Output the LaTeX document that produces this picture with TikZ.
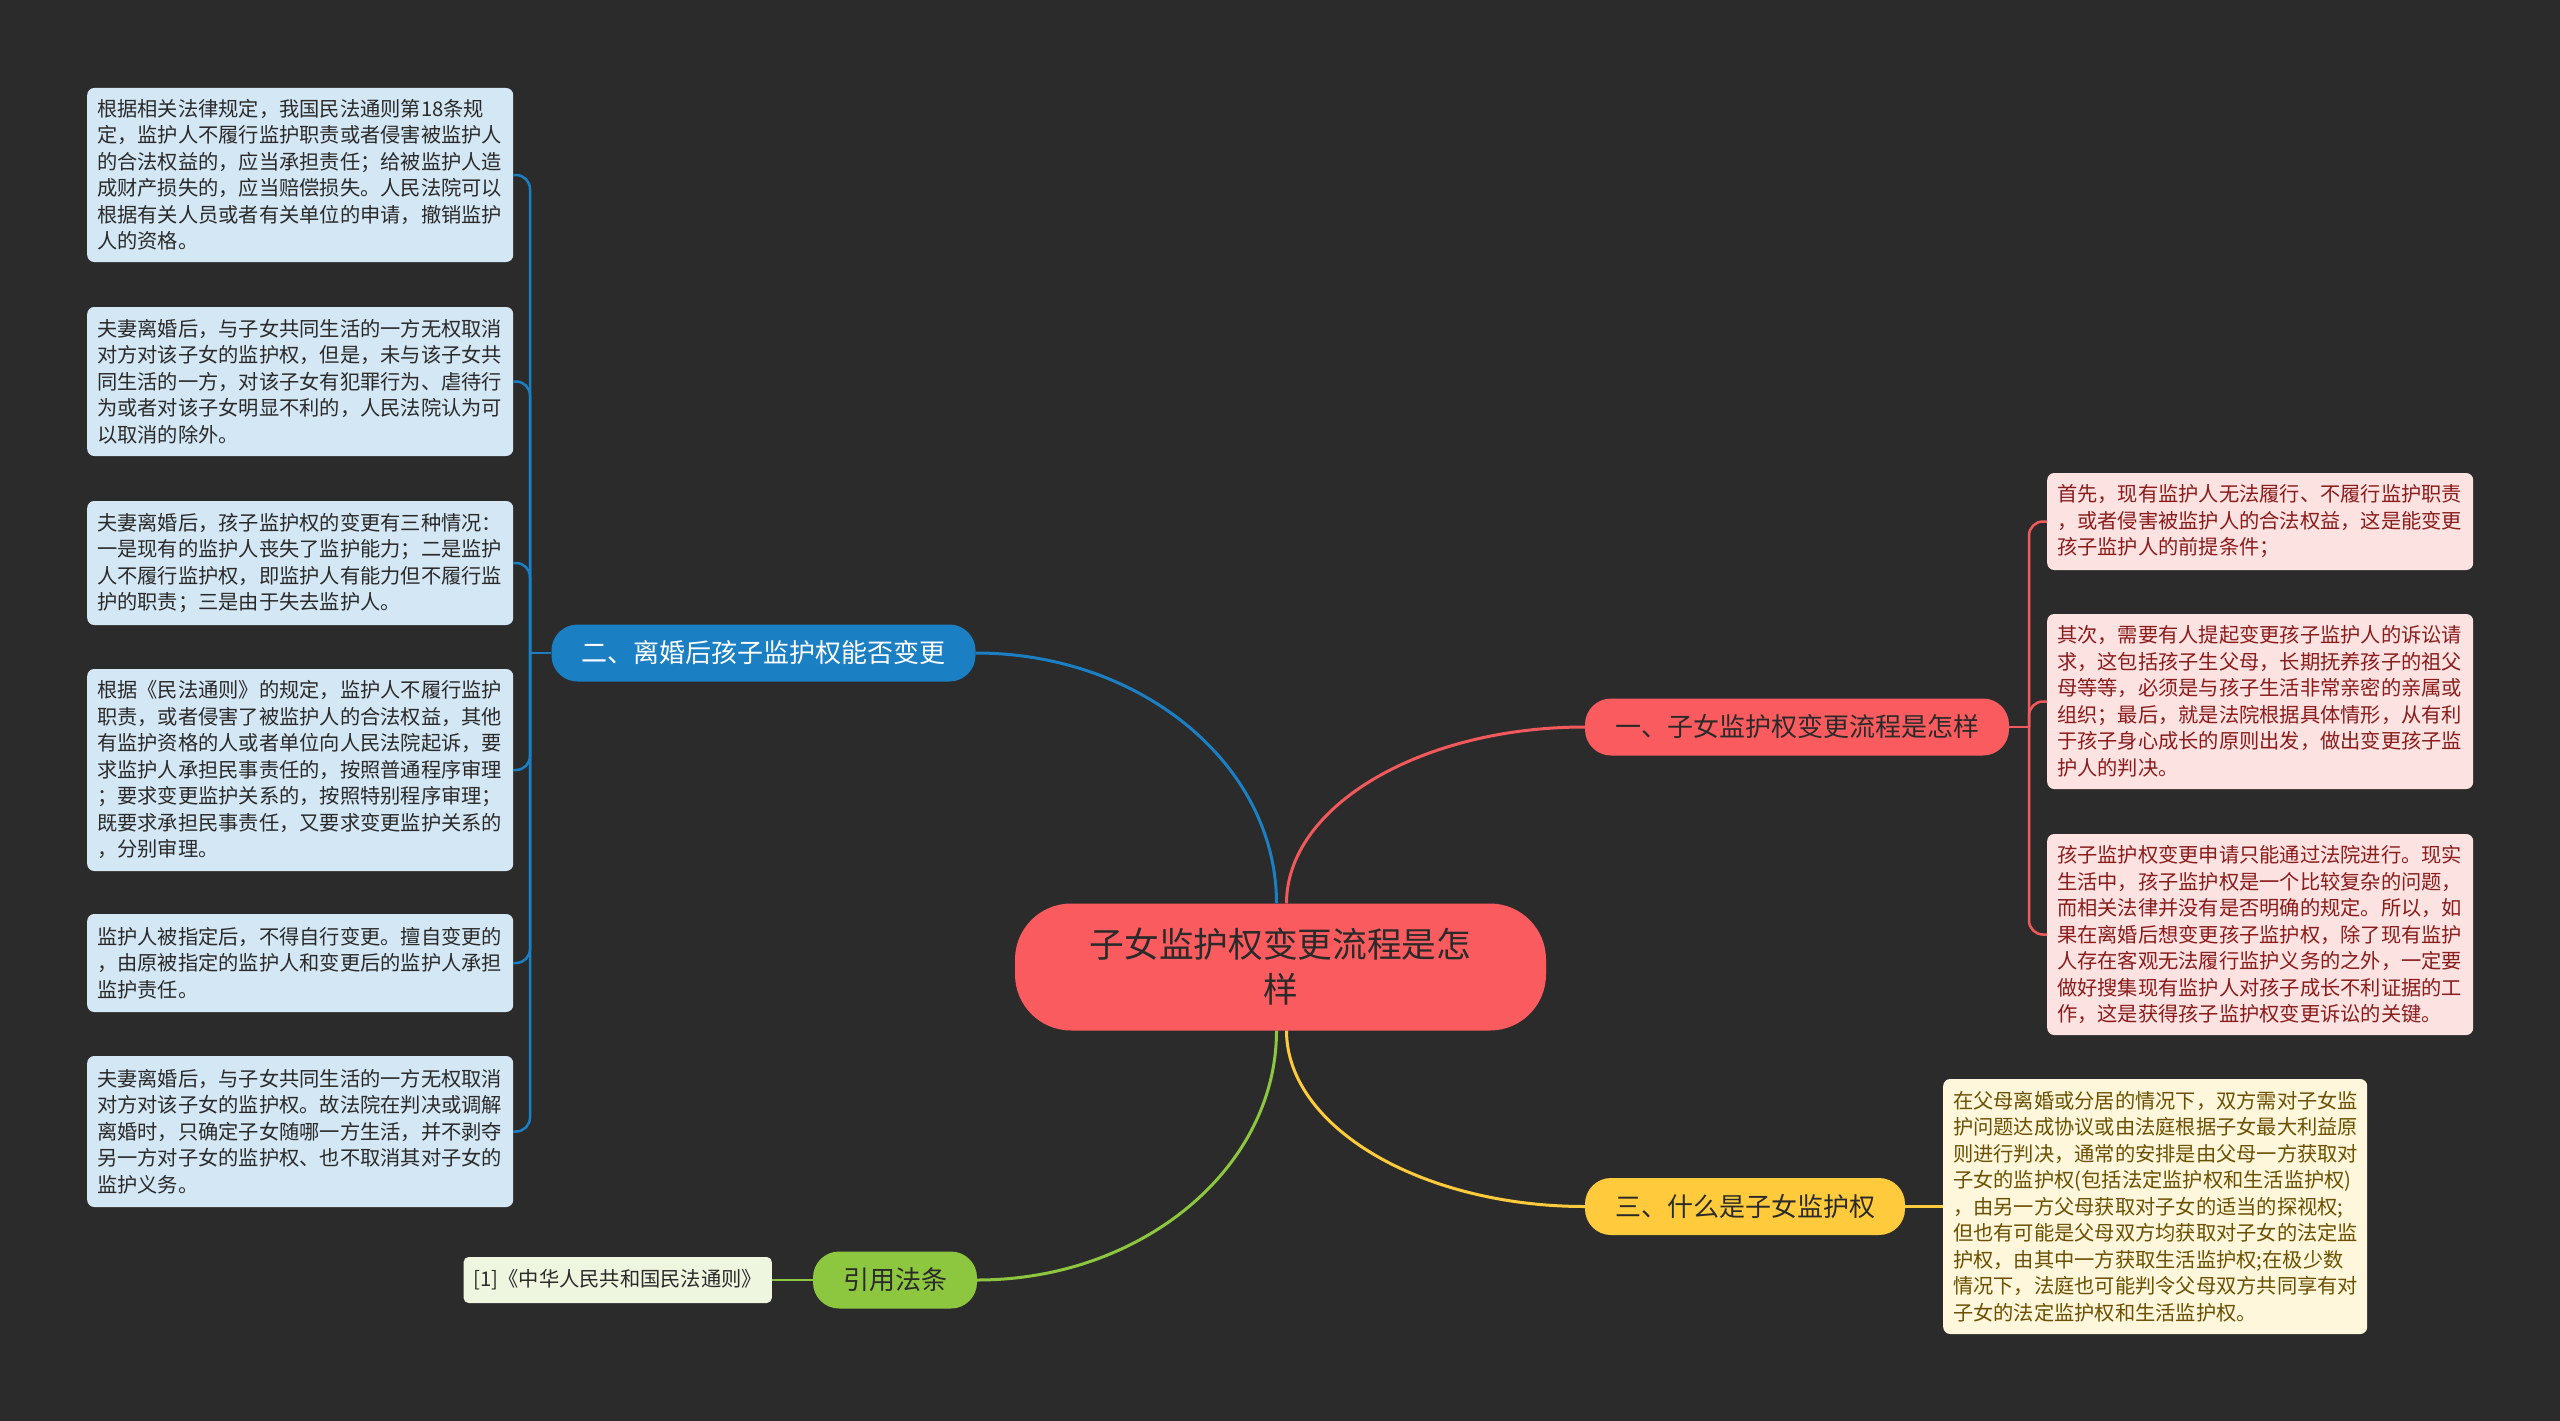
\documentclass[tikz,border=0pt]{standalone}
\usepackage{fontspec}
\setmainfont{Noto Sans CJK SC}
\usepackage{tikz}
\definecolor{bgdark}{HTML}{2B2B2B}
\definecolor{rootred}{HTML}{F95B5F}
\definecolor{lineblue}{HTML}{1B7FC4}
\definecolor{linered}{HTML}{F2595C}
\definecolor{lineyellow}{HTML}{FFCB3C}
\definecolor{linegreen}{HTML}{8DC63F}
\definecolor{fillblue}{HTML}{D4E7F4}
\definecolor{fillpink}{HTML}{FDE2E2}
\definecolor{fillcream}{HTML}{FFF7DC}
\definecolor{fillgreen}{HTML}{EEF6DF}
\definecolor{textpink}{HTML}{8A1C1C}
\definecolor{textbrown}{HTML}{6A5000}
\definecolor{textdark}{HTML}{2A2A2A}

\begin{document}
\begin{tikzpicture}[x=1pt,y=-1pt,every node/.style={font=\fontsize{20.25}{26.5}\selectfont},
  leaf/.style={anchor=west,rounded corners=7pt,align=left,text width=406pt,inner xsep=10pt,inner ysep=0pt},
  branch/.style={rounded corners=26pt,minimum height=57pt,inner xsep=30pt,inner ysep=0pt,font=\fontsize{26}{30}\selectfont},
  root/.style={fill=rootred,text=textdark,rounded corners=56pt,minimum width=531pt,minimum height=127pt,align=center,font=\fontsize{34.7}{45}\selectfont},
  bigline/.style={line width=3pt},
  smallline/.style={line width=2.5pt,rounded corners=14pt}]
                \fill[bgdark] (0,0) rectangle (2560,1421);
                \useasboundingbox (0,0) rectangle (2560,1421);

                \node[root] (root) at (1280.5,967) {子女监护权变更流程是怎\\样};

                \node[branch,fill=lineblue,text=white] (sec2) at (763.5,653) {二、离婚后孩子监护权能否变更};
                \node[branch,fill=rootred,text=textdark] (sec1) at (1797,727) {一、子女监护权变更流程是怎样};
                \node[branch,fill=lineyellow,text=textdark] (sec3) at (1745,1206.5) {三、什么是子女监护权};
                \node[branch,fill=linegreen,text=textdark] (ref) at (895,1280) {引用法条};

                \node[leaf,fill=fillblue,text=textdark,minimum height=174pt] (b1) at (87,175) {根据相关法律规定，我国民法通则第18条规\\定，监护人不履行监护职责或者侵害被监护人\\的合法权益的，应当承担责任；给被监护人造\\成财产损失的，应当赔偿损失。人民法院可以\\根据有关人员或者有关单位的申请，撤销监护\\人的资格。};
                \node[leaf,fill=fillblue,text=textdark,minimum height=149pt] (b2) at (87,381.5) {夫妻离婚后，与子女共同生活的一方无权取消\\对方对该子女的监护权，但是，未与该子女共\\同生活的一方，对该子女有犯罪行为、虐待行\\为或者对该子女明显不利的，人民法院认为可\\以取消的除外。};
                \node[leaf,fill=fillblue,text=textdark,minimum height=124pt] (b3) at (87,563) {夫妻离婚后，孩子监护权的变更有三种情况：\\一是现有的监护人丧失了监护能力；二是监护\\人不履行监护权，即监护人有能力但不履行监\\护的职责；三是由于失去监护人。};
                \node[leaf,fill=fillblue,text=textdark,minimum height=202pt] (b4) at (87,770) {根据《民法通则》的规定，监护人不履行监护\\职责，或者侵害了被监护人的合法权益，其他\\有监护资格的人或者单位向人民法院起诉，要\\求监护人承担民事责任的，按照普通程序审理\\；要求变更监护关系的，按照特别程序审理；\\既要求承担民事责任，又要求变更监护关系的\\，分别审理。};
                \node[leaf,fill=fillblue,text=textdark,minimum height=98pt] (b5) at (87,963) {监护人被指定后，不得自行变更。擅自变更的\\，由原被指定的监护人和变更后的监护人承担\\监护责任。};
                \node[leaf,fill=fillblue,text=textdark,minimum height=151pt] (b6) at (87,1131.5) {夫妻离婚后，与子女共同生活的一方无权取消\\对方对该子女的监护权。故法院在判决或调解\\离婚时，只确定子女随哪一方生活，并不剥夺\\另一方对子女的监护权、也不取消其对子女的\\监护义务。};

                \node[leaf,fill=fillpink,text=textpink,minimum height=97pt] (r1) at (2047,521.5) {首先，现有监护人无法履行、不履行监护职责\\，或者侵害被监护人的合法权益，这是能变更\\孩子监护人的前提条件；};
                \node[leaf,fill=fillpink,text=textpink,minimum height=175pt] (r2) at (2047,701.5) {其次，需要有人提起变更孩子监护人的诉讼请\\求，这包括孩子生父母，长期抚养孩子的祖父\\母等等，必须是与孩子生活非常亲密的亲属或\\组织；最后，就是法院根据具体情形，从有利\\于孩子身心成长的原则出发，做出变更孩子监\\护人的判决。};
                \node[leaf,fill=fillpink,text=textpink,minimum height=201pt] (r3) at (2047,934.5) {孩子监护权变更申请只能通过法院进行。现实\\生活中，孩子监护权是一个比较复杂的问题，\\而相关法律并没有是否明确的规定。所以，如\\果在离婚后想变更孩子监护权，除了现有监护\\人存在客观无法履行监护义务的之外，一定要\\做好搜集现有监护人对孩子成长不利证据的工\\作，这是获得孩子监护权变更诉讼的关键。};

                \node[leaf,fill=fillcream,text=textbrown,text width=404pt,minimum height=255pt] (y1) at (1943,1206.5) {在父母离婚或分居的情况下，双方需对子女监\\护问题达成协议或由法庭根据子女最大利益原\\则进行判决，通常的安排是由父母一方获取对\\子女的监护权(包括法定监护权和生活监护权)\\，由另一方父母获取对子女的适当的探视权;\\但也有可能是父母双方均获取对子女的法定监\\护权，由其中一方获取生活监护权;在极少数\\情况下，法庭也可能判令父母双方共同享有对\\子女的法定监护权和生活监护权。};

                \node[fill=fillgreen,text=textdark,rounded corners=5pt,minimum height=46pt,inner xsep=10pt,inner ysep=0pt,anchor=east] (law) at (772,1280) {[1]《中华人民共和国民法通则》};

                \draw[lineblue,bigline] ([xshift=-4pt]root.north) .. controls +(0,-138) and +(166,0) .. (sec2.east);
                \draw[linered,bigline] ([xshift=6pt]root.north) .. controls +(0,-97) and +(-164,0) .. (sec1.west);
                \draw[lineyellow,bigline] ([xshift=6pt]root.south) .. controls +(0,96) and +(-164,0) .. (sec3.west);
                \draw[linegreen,bigline] ([xshift=-4pt]root.south) .. controls +(0,137) and +(165,0) .. (ref.east);

                \coordinate (bj) at (530,653);
                \draw[lineblue,smallline] (sec2.west) -- (bj);
                \foreach \leaf in {b1,b2,b3,b4,b5,b6}
                    \draw[lineblue,smallline] (bj) |- (\leaf.east);

                \coordinate (rj) at (2029,727);
                \draw[linered,smallline] (sec1.east) -- (rj);
                \foreach \leaf in {r1,r2,r3}
                    \draw[linered,smallline] (rj) |- (\leaf.west);

                \draw[lineyellow,smallline] (sec3.east) -- (y1.west);
                \draw[linegreen,smallline] (ref.west) -- (law.east);
            \end{tikzpicture}
\end{document}
